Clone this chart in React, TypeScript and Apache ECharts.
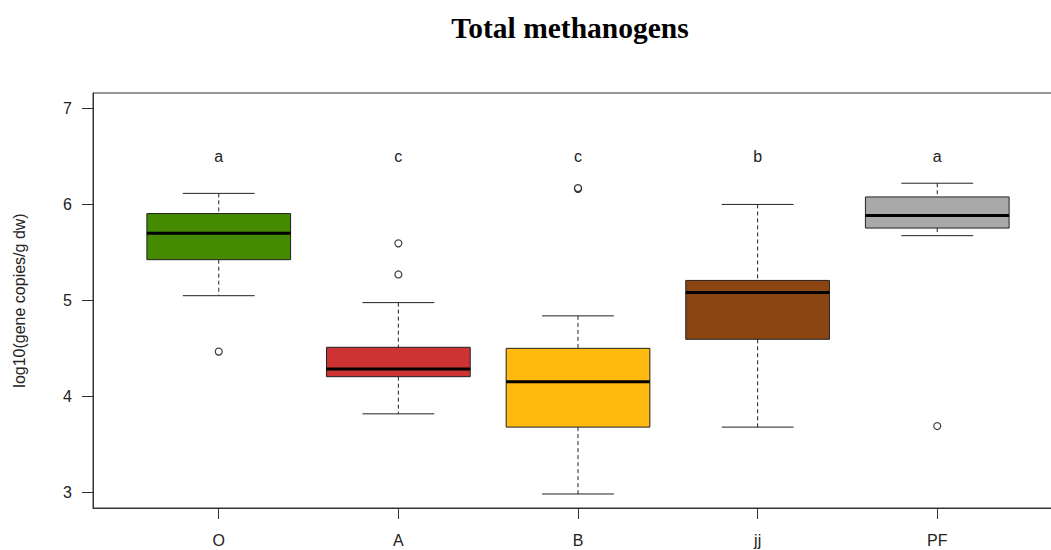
import React, { useEffect, useRef } from "react";
import * as echarts from "echarts";

const titleText = "Total methanogens";
const yAxisName = "log10(gene copies/g dw)";
const categories = ["O", "A", "B", "jj", "PF"];
const boxColors = ["#458B00", "#CD3333", "#FFB90F", "#8B4513", "#A9A9A9"];
// [lower whisker, Q1, median, Q3, upper whisker]
const boxStatsO = [5.05, 5.425, 5.7, 5.905, 6.115];
const boxStatsA = [3.82, 4.207, 4.287, 4.513, 4.978];
const boxStatsB = [2.986, 3.682, 4.155, 4.502, 4.84];
const boxStatsJJ = [3.682, 4.596, 5.083, 5.209, 6.0];
const boxStatsPF = [5.675, 5.754, 5.884, 6.078, 6.221];
const outliersO = [4.468];
const outliersA = [5.595, 5.271];
const outliersB = [6.162, 6.17];
const outliersJJ: number[] = [];
const outliersPF = [3.693];
const letters = ["a", "c", "c", "b", "a"];
const letterLevel = 6.5;
const yTicks = [3, 4, 5, 6, 7];
const xTicks = [1, 2, 3, 4, 5];

export default function App() {
  const ref = useRef<HTMLDivElement>(null);
  useEffect(() => {
    if (!ref.current) return;
    const chart = echarts.init(ref.current, undefined, { renderer: "svg" });
    const allStats = [boxStatsO, boxStatsA, boxStatsB, boxStatsJJ, boxStatsPF];
    const allOut = [outliersO, outliersA, outliersB, outliersJJ, outliersPF];
    const boxData = allStats.map((s, i) => [i + 1, ...s]);
    const outData: number[][] = [];
    allOut.forEach((arr, i) => arr.forEach((v) => outData.push([i + 1, v])));
    const letterData = letters.map((l, i) => [i + 1, letterLevel, l]);
    const font = "Liberation Sans, Arial, sans-serif";
    const stroke = "#222";

    chart.setOption({
      animation: false,
      backgroundColor: "#fff",
      graphic: [
        {
          type: "text",
          x: 570,
          y: 28,
          style: {
            text: titleText,
            font: "bold 29.5px 'Liberation Serif', 'Times New Roman', serif",
            fill: "#000",
            textAlign: "center",
            textVerticalAlign: "middle",
          },
        },
      ],
      grid: {
        left: 93,
        top: 93,
        width: 970,
        height: 415,
        show: true,
        borderColor: "#333",
        borderWidth: 1,
        backgroundColor: "transparent",
      },
      xAxis: {
        type: "value",
        min: 0.3,
        max: 5.7,
        splitLine: { show: false },
        axisLine: { show: true, lineStyle: { color: "#333" } },
        axisTick: {
          show: true,
          length: 11,
          customValues: xTicks,
          lineStyle: { color: "#333" },
        },
        axisLabel: {
          customValues: xTicks,
          margin: 24,
          fontSize: 16,
          fontFamily: font,
          color: "#222",
          formatter: (v: number) => categories[Math.round(v) - 1] ?? "",
        },
      },
      yAxis: {
        type: "value",
        min: 2.84,
        max: 7.16,
        name: yAxisName,
        nameLocation: "middle",
        nameRotate: 90,
        nameGap: 66,
        nameTextStyle: { fontSize: 16, fontFamily: font, color: "#222" },
        splitLine: { show: false },
        axisLine: { show: true, lineStyle: { color: "#333" } },
        axisTick: {
          show: true,
          length: 11,
          customValues: yTicks,
          lineStyle: { color: "#333" },
        },
        axisLabel: {
          customValues: yTicks,
          margin: 21,
          fontSize: 16,
          fontFamily: font,
          color: "#222",
        },
      },
      series: [
        {
          type: "custom",
          silent: true,
          encode: { x: 0, y: [1, 2, 3, 4, 5] },
          data: boxData,
          renderItem: (params: any, api: any) => {
            const x = api.value(0);
            const lo = api.coord([x, api.value(1)]);
            const q1 = api.coord([x, api.value(2)]);
            const med = api.coord([x, api.value(3)]);
            const q3 = api.coord([x, api.value(4)]);
            const hi = api.coord([x, api.value(5)]);
            const cx = lo[0];
            const hb = api.size([0.4, 0])[0];
            const hc = api.size([0.2, 0])[0];
            const color = boxColors[params.dataIndex];
            return {
              type: "group",
              children: [
                {
                  type: "line",
                  shape: { x1: cx, y1: hi[1], x2: cx, y2: q3[1] },
                  style: { stroke, lineWidth: 1, lineDash: [4, 3] },
                },
                {
                  type: "line",
                  shape: { x1: cx, y1: q1[1], x2: cx, y2: lo[1] },
                  style: { stroke, lineWidth: 1, lineDash: [4, 3] },
                },
                {
                  type: "line",
                  shape: { x1: cx - hc, y1: hi[1], x2: cx + hc, y2: hi[1] },
                  style: { stroke, lineWidth: 1 },
                },
                {
                  type: "line",
                  shape: { x1: cx - hc, y1: lo[1], x2: cx + hc, y2: lo[1] },
                  style: { stroke, lineWidth: 1 },
                },
                {
                  type: "rect",
                  shape: { x: cx - hb, y: q3[1], width: hb * 2, height: q1[1] - q3[1] },
                  style: { fill: color, stroke, lineWidth: 1 },
                },
                {
                  type: "line",
                  shape: { x1: cx - hb, y1: med[1], x2: cx + hb, y2: med[1] },
                  style: { stroke: "#000", lineWidth: 3 },
                },
              ],
            };
          },
        },
        {
          type: "scatter",
          silent: true,
          data: outData,
          symbol: "circle",
          symbolSize: 7,
          itemStyle: { color: "#fff", borderColor: "#111", borderWidth: 1.2 },
        },
        {
          type: "custom",
          silent: true,
          encode: { x: 0, y: 1 },
          data: letterData,
          renderItem: (params: any, api: any) => {
            const p = api.coord([api.value(0), api.value(1)]);
            return {
              type: "text",
              x: p[0],
              y: p[1],
              style: {
                text: letters[params.dataIndex],
                font: `16px ${font}`,
                fill: "#222",
                textAlign: "center",
                textVerticalAlign: "middle",
              },
            };
          },
        },
      ],
    });
    return () => chart.dispose();
  }, []);
  return (
    <div
      style={{
        position: "fixed",
        left: 0,
        top: 0,
        width: 1051,
        height: 550,
        overflow: "hidden",
        background: "#fff",
      }}
    >
      <div ref={ref} style={{ width: 1100, height: 550 }} />
    </div>
  );
}
